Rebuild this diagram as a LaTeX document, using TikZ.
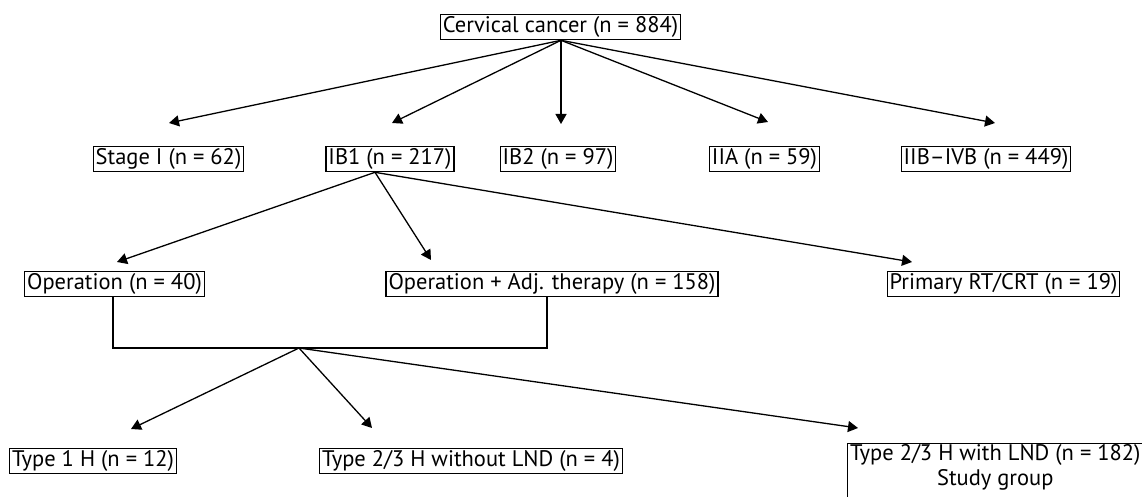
\documentclass[tikz,border=0pt]{standalone}
\usepackage{fontspec}
\setmainfont{PT Sans}
\usetikzlibrary{arrows.meta}
\tikzset{
  box/.style={draw=black, line width=1.1pt, inner xsep=2.5pt, inner ysep=1.5pt, font=\fontsize{22.5}{26}\selectfont, text height=17pt, text depth=5.5pt},
  arr/.style={line width=1.3pt, -{Triangle[length=10pt,width=11pt]}},
  link/.style={line width=1.1pt}
}
\begin{document}
\begin{tikzpicture}[x=1pt,y=-1pt]
\useasboundingbox (0,0) rectangle (1142,497);
% nodes
\node[box] (top) at (560.5,27) {Cervical cancer (n = 884)};
\node[box] (s1) at (168.5,159) {Stage I (n = 62)};
\node[box] (ib1) at (390,159) {IB1 (n = 217)};
\node[box] (ib2) at (558,159) {IB2 (n = 97)};
\node[box] (iia) at (764.5,159) {IIA (n = 59)};
\node[box] (iib) at (986,159) {IIB–IVB (n = 449)};
\node[box] (op) at (114.5,284) {Operation (n = 40)};
\node[box] (opadj) at (552,284) {Operation + Adj. therapy (n = 158)};
\node[box] (prim) at (1003.5,284) {Primary RT/CRT (n = 19)};
\node[box] (t1) at (93,461) {Type 1 H (n = 12)};
\node[box] (t23) at (471,461) {Type 2/3 H without LND (n = 4)};
\node[box, anchor=north west, align=center, text height=, text depth=, inner ysep=1pt, font=\fontsize{22.5}{25}\selectfont] (lnd) at (847,443) {Type 2/3 H with LND (n = 182)\\Study group\\\strut};
% coordinates
\coordinate (ts1) at (169,123);
\coordinate (tib1) at (392,123);
\coordinate (tib2) at (561,124);
\coordinate (tiia) at (768,122);
\coordinate (tiib) at (995,123);
\coordinate (tops) at ([xshift=0.5pt]top.south);
\coordinate (ib1s) at ([xshift=-15pt]ib1.south);
\coordinate (top2) at (117,262);
\coordinate (topadj) at (431,260);
\coordinate (tprim) at (912,262);
\coordinate (jl) at (113,348);
\coordinate (jr) at (547,348);
\coordinate (br) at (299,348);
\coordinate (tt1) at (131,429);
\coordinate (tt23) at (372,428);
\coordinate (tlnd) at (858,428);
% connectors
\foreach \t in {ts1,tib1,tib2,tiia,tiib} \draw[arr] (tops) -- (\t);
\foreach \t in {top2,topadj,tprim} \draw[arr] (ib1s) -- (\t);
\draw[link] (op.south -| jl) -- (jl) -- (jr) -- (opadj.south -| jr);
\foreach \t in {tt1,tt23,tlnd} \draw[arr] (br) -- (\t);
\end{tikzpicture}
\end{document}
